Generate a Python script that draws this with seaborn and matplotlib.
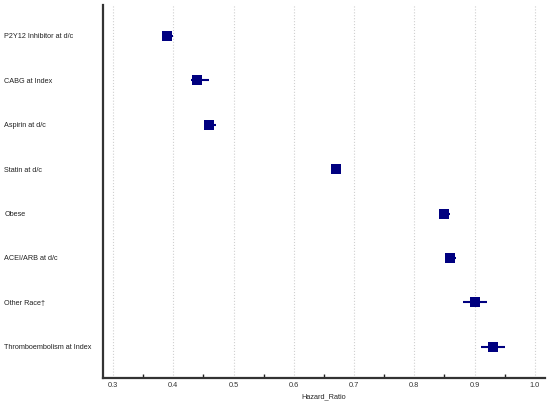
import matplotlib
matplotlib.use("Agg")
import matplotlib.pyplot as plt
from matplotlib.ticker import MultipleLocator
import pandas as pd
import seaborn as sns

# forest plot values
labels = ["P2Y12 Inhibitor at d/c", "CABG at Index", "Aspirin at d/c", "Statin at d/c",
          "Obese", "ACEI/ARB at d/c", "Other Race\u2020", "Thromboembolism at Index"]
hr = [0.39, 0.44, 0.46, 0.67, 0.85, 0.86, 0.90, 0.93]
lower = [0.381, 0.430, 0.451, 0.662, 0.845, 0.852, 0.881, 0.910]
upper = [0.400, 0.460, 0.470, 0.676, 0.860, 0.870, 0.920, 0.950]

df = pd.DataFrame({"label": labels, "hr": hr, "lo": lower, "hi": upper})
df["row"] = range(len(df))

sns.set_style("white")
plt.rcParams["font.family"] = ["Liberation Sans", "DejaVu Sans"]
navy = "#000080"

fig = plt.figure(figsize=(5.5, 4.05), dpi=100)
ax = fig.add_axes([0.187, 0.067, 0.804, 0.921])

ax.hlines(df["row"], df["lo"], df["hi"], color=navy, lw=1.5, zorder=3)
sns.scatterplot(data=df, x="hr", y="row", marker="s", s=42, color=navy,
                edgecolor=navy, linewidth=0, zorder=4, ax=ax)

ax.set_xlim(0.283, 1.017)
ax.set_ylim(7.7, -0.7)
ax.xaxis.set_major_locator(MultipleLocator(0.1))
ax.xaxis.set_minor_locator(MultipleLocator(0.05))
ax.set_xticklabels([f"{t:.1f}" for t in ax.get_xticks()])
ax.grid(axis="x", which="major", color="#d0d0d0", ls=":", lw=0.8)

ax.set_yticks(df["row"])
ax.set_yticklabels(labels, ha="left")
ax.tick_params(axis="y", length=0, pad=71, labelsize=5.2, labelcolor="#222222")
ax.tick_params(axis="x", which="major", direction="in", length=5.5, width=1.2,
               labelsize=5.3, labelcolor="#333333", color="#222222", pad=3)
ax.tick_params(axis="x", which="minor", direction="in", length=3, width=1,
               color="#222222", bottom=True)

sns.despine(ax=ax)
for s in ["left", "bottom"]:
    ax.spines[s].set_color("#333333")
    ax.spines[s].set_linewidth(1.6)

ax.set_xlabel("Hazard_Ratio", fontsize=5.3, labelpad=3)
ax.set_ylabel("")

fig.savefig("out.png", dpi=100)
